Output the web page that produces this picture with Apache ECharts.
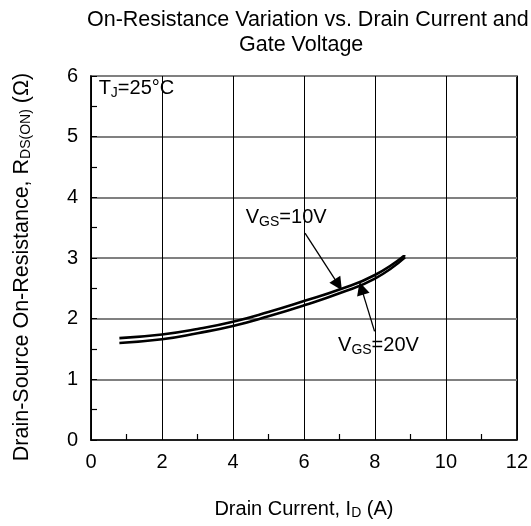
<!DOCTYPE html>
<html>
<head>
<meta charset="utf-8">
<script src="https://cdn.jsdelivr.net/npm/echarts@6/dist/echarts.min.js"></script>
<style>
  html, body { margin: 0; padding: 0; background: #fff; }
  #chart { width: 531px; height: 526px; }
</style>
</head>
<body>
<div id="chart"></div>
<script>
// drain current (A) and on-resistance (ohm)
const drainCurrent = [0.8, 2, 3, 4, 5, 6, 7, 8, 8.85]
const rdsVgs10 = [1.68, 1.74, 1.83, 1.95, 2.11, 2.29, 2.48, 2.72, 3.05]
const rdsVgs20 = [1.60, 1.66, 1.76, 1.88, 2.04, 2.22, 2.42, 2.66, 3.01]

// annotation anchors in data units
const label10 = [5.5, 3.66]
const arrow10 = [[6.03, 3.41], [6.97, 2.56]]
const label20 = [8.1, 1.55]
const arrow20 = [[7.99, 1.79], [7.62, 2.50]]
const tjLabel = [1.28, 5.79]

const FONT = '"Liberation Sans", Arial, sans-serif'
const txt = { fontSize: 20, fontFamily: FONT, color: '#000', lineHeight: 22 }
const sub = { fontSize: 14, fontFamily: FONT, color: '#000', verticalAlign: 'bottom', lineHeight: 20 }
const titleStyle = { fontSize: 21.5, fontWeight: 'normal', fontFamily: FONT, color: '#000', lineHeight: 25 }

const pairs = (xs, ys) => xs.map((x, i) => [x, ys[i]])

const chart = echarts.init(document.getElementById('chart'))

const arrowLine = (pts) => ({
  symbol: ['none', 'triangle'],
  symbolSize: 13,
  silent: true,
  animation: false,
  z: 5,
  lineStyle: { color: '#000', width: 1.3, type: 'solid' },
  itemStyle: { color: '#000' },
  label: { show: false },
  data: [[{ coord: pts[0] }, { coord: pts[1] }]],
})

const textPoint = (coord, text) => ({
  symbol: 'circle',
  symbolSize: 0,
  silent: true,
  animation: false,
  label: {
    show: true,
    position: 'inside',
    formatter: text,
    rich: { t: txt, s: sub },
  },
  data: [{ coord }],
})

chart.setOption({
  animation: false,
  title: [
    { text: 'On-Resistance Variation vs. Drain Current and', left: 87, top: 8, padding: 0, textStyle: titleStyle },
    { text: 'Gate Voltage', left: 239, top: 33, padding: 0, textStyle: titleStyle },
  ],
  grid: {
    left: 91, top: 76, right: 11, bottom: 86,
    show: true, borderColor: '#000', borderWidth: 1.5,
  },
  xAxis: {
    type: 'value',
    min: 0, max: 12, interval: 2,
    name: '{t|Drain Current, I}{s|D}{t| (A)}',
    nameLocation: 'middle',
    nameGap: 58,
    nameTextStyle: { rich: { t: txt, s: sub } },
    axisLine: { lineStyle: { color: '#000', width: 1.5 } },
    axisTick: { show: true, inside: true, length: 6, lineStyle: { color: '#000' } },
    minorTick: { show: true, splitNumber: 2, length: 6, lineStyle: { color: '#000', width: 1.2 } },
    axisLabel: { fontSize: 20, fontFamily: FONT, color: '#000', margin: 12 },
    splitLine: { show: true, lineStyle: { color: '#000', width: 1 } },
  },
  yAxis: {
    type: 'value',
    min: 0, max: 6, interval: 1,
    name: '{t|Drain-Source On-Resistance, R}{s|DS(ON)}{t| (Ω)}',
    nameLocation: 'middle',
    nameGap: 58,
    nameTextStyle: { padding: [0, 18, 0, 0], rich: { t: { ...txt, fontSize: 21.5 }, s: sub } },
    axisLine: { lineStyle: { color: '#000', width: 1.5 } },
    axisTick: { show: true, inside: true, length: 6, lineStyle: { color: '#000' } },
    minorTick: { show: true, splitNumber: 2, length: 6, lineStyle: { color: '#000', width: 1.2 } },
    axisLabel: { fontSize: 20, fontFamily: FONT, color: '#000', margin: 13 },
    splitLine: { show: true, lineStyle: { color: '#808080', width: 2 } },
  },
  series: [
    {
      name: 'VGS=10V',
      type: 'line',
      smooth: true,
      showSymbol: false,
      data: pairs(drainCurrent, rdsVgs10),
      lineStyle: { color: '#000', width: 2.6 },
      markLine: arrowLine(arrow10),
      markPoint: textPoint(label10, '{t|V}{s|GS}{t|=10V}'),
    },
    {
      name: 'VGS=20V',
      type: 'line',
      smooth: true,
      showSymbol: false,
      data: pairs(drainCurrent, rdsVgs20),
      lineStyle: { color: '#000', width: 2.6 },
      markLine: arrowLine(arrow20),
      markPoint: textPoint(label20, '{t|V}{s|GS}{t|=20V}'),
    },
    {
      name: 'tj',
      type: 'scatter',
      data: [],
      markPoint: textPoint(tjLabel, '{t|T}{s|J}{t|=25°C}'),
    },
  ],
})
</script>
</body>
</html>
